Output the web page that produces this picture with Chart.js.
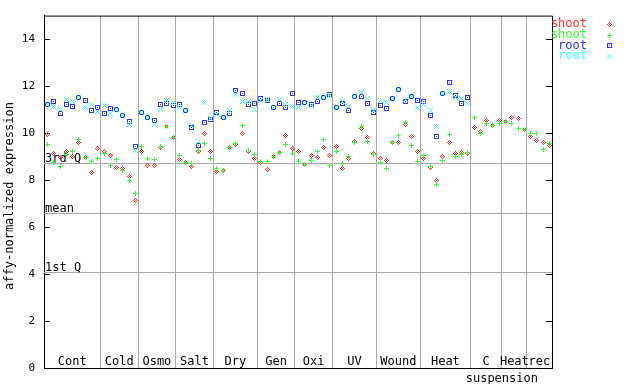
<!DOCTYPE html>
<html><head><meta charset="utf-8">
<script src="https://cdn.jsdelivr.net/npm/chart.js@4"></script>
<style>html,body{margin:0;padding:0;background:#fff}canvas{display:block}</style>
</head><body>
<canvas id="c" width="640" height="384"></canvas>
<script>
// ---- data ----
const groupNames = ["Cont","Cold","Osmo","Salt","Dry","Gen","Oxi","UV","Wound","Heat","C","Heat","rec"];
const groupSizes = [9,6,6,6,7,6,6,7,7,8,5,4,4];
const subLabel = "suspension";
const yTickValues = [0,2,4,6,8,10,12,14];
const quartileLabels = ["3rd Q","mean","1st Q"];
const quartileValues = [8.73, 6.62, 4.10];
const seriesNames = ["shoot","shoot","root","root"];

const shootRed = [
  9.95, 9.17, 9.00, 9.25, 9.04, 9.63, 9.00, 8.37, 9.38,
  9.25, 9.08, 8.58, 8.53, 8.17, 7.18,
  9.25, 8.66, 8.66, 9.42, 10.31, 9.84,
  8.91, 8.79, 8.62, 9.25, 10.01, 9.25,
  8.41, 8.45, 9.42, 9.55, 10.01, 9.25, 8.96,
  8.79, 8.49, 9.04, 9.21, 9.93, 9.38,
  9.25, 8.70, 9.08, 9.00, 9.42, 9.08,
  9.46, 8.53, 8.96, 9.67, 10.22, 9.84, 9.17,
  8.96, 8.87, 9.63, 9.63, 10.39, 9.89, 9.25,
  8.96, 8.58, 8.03, 9.04, 9.63, 9.17, 9.21, 9.17,
  10.27, 10.10, 10.56, 10.35, 10.56,
  10.52, 10.69, 10.65, 10.18,
  9.89, 9.72, 9.63, 9.50
];
const shootGreen = [
  9.52, 8.79, 8.62, 9.12, 9.25, 9.76, 9.00, 8.83, 8.96,
  9.17, 8.66, 8.91, 8.45, 8.03, 7.44,
  9.46, 8.96, 8.91, 9.46, 10.31, 9.84,
  9.08, 8.77, 8.75, 9.29, 9.59, 8.96,
  8.53, 8.45, 9.42, 9.59, 10.35, 9.29, 9.12,
  8.83, 8.83, 9.04, 9.21, 9.55, 9.17,
  8.83, 8.70, 8.87, 9.25, 9.76, 8.66,
  9.25, 8.75, 9.04, 9.63, 10.31, 9.67, 9.12,
  8.79, 8.53, 9.63, 9.93, 10.48, 9.50, 8.83,
  9.08, 8.62, 7.86, 8.87, 9.97, 9.04, 9.12, 9.21,
  10.69, 10.01, 10.43, 10.35, 10.43,
  10.52, 10.43, 10.22, 10.18,
  10.01, 10.01, 9.34, 9.59
];
const rootBlue = [
  11.24, 11.36, 10.86, 11.24, 11.15, 11.53, 11.41, 10.98, 11.11,
  10.86, 11.07, 11.03, 10.77, 10.52, 9.46,
  10.90, 10.71, 10.56, 11.24, 11.28, 11.20,
  11.24, 10.98, 10.27, 9.50, 10.48, 10.60,
  10.90, 10.69, 10.86, 11.83, 11.70, 11.24, 11.28,
  11.49, 11.41, 11.11, 11.28, 11.11, 11.70,
  11.32, 11.32, 11.24, 11.36, 11.53, 11.66,
  11.11, 11.28, 10.98, 11.58, 11.58, 11.28, 10.90,
  11.20, 11.07, 11.49, 11.87, 11.36, 11.58, 11.41,
  11.36, 10.77, 9.89, 11.70, 12.17, 11.62, 11.28, 11.53
];
const rootCyan = [
  11.24, 11.15, 11.03, 11.45, 11.36, 11.53, 11.11, 11.24, 10.94,
  11.20, 10.86, 11.03, 10.77, 10.39, 9.29,
  10.90, 10.71, 10.41, 11.05, 11.41, 11.32,
  11.11, 10.98, 10.35, 9.67, 11.32, 10.65,
  10.80, 10.69, 10.98, 11.66, 11.36, 11.36, 11.03,
  11.41, 11.45, 11.11, 11.45, 11.24, 11.15,
  11.11, 11.32, 11.20, 11.53, 11.53, 11.62,
  11.11, 11.36, 11.15, 11.58, 11.74, 11.49, 10.98,
  11.41, 11.32, 11.49, 11.87, 11.45, 11.58, 11.11,
  11.24, 10.98, 10.31, 11.70, 11.79, 11.53, 11.49, 11.28
];

// ---- derived ----
const nSamples = groupSizes.reduce((a,b)=>a+b,0);
const boundaries = [];
const groupStarts = [];
{ let s=0; groupSizes.forEach((g,i)=>{ groupStarts.push(s); s+=g; if(i<groupSizes.length-1) boundaries.push(s); }); }
const toPts = arr => arr.map((v,i)=>({x:i+0.5, y:v}));

const COL = {red:'#ff3030', green:'#30ff30', blue:'#3030ff', cyan:'#30ffff'};
const seriesColors = [COL.red, COL.green, COL.blue, COL.cyan];
const kinds = ['diamond','plus','square','x'];
function markerPixels(kind){
  const p=[];
  if(kind==='diamond'){ for(let y=0;y<5;y++)for(let x=0;x<5;x++){const d=Math.abs(x-2)+Math.abs(y-2); if(d<=2&&(x+y)%2===0)p.push([x,y]);} }
  else if(kind==='plus'){ for(let i=0;i<5;i++){p.push([2,i]); if(i!==2)p.push([i,2]);} }
  else if(kind==='square'){ for(let i=0;i<5;i++){p.push([i,0],[i,4]); if(i>0&&i<4)p.push([0,i],[4,i]);} p.push([2,2]); }
  else { for(let i=0;i<5;i++){p.push([i,i]); if(i!==2)p.push([4-i,i]);} }
  return p;
}
function drawMarker(ctx, kind, color, cx, cy){
  const x0=Math.round(cx)-2, y0=Math.round(cy)-2;
  ctx.fillStyle=color;
  markerPixels(kind).forEach(([x,y])=>ctx.fillRect(x0+x,y0+y,1,1));
}
const FONT = '"DejaVu Sans Mono", monospace';

const overlay = {
  id:'overlay',
  beforeDatasetsDraw(chart){
    const {ctx, chartArea:a, scales:{x,y}} = chart;
    ctx.save();
    ctx.strokeStyle='#a8a8a8'; ctx.lineWidth=1;
    quartileValues.forEach(v=>{ const py=Math.round(y.getPixelForValue(v))+0.5;
      ctx.beginPath(); ctx.moveTo(a.left,py); ctx.lineTo(a.right,py); ctx.stroke(); });
    ctx.fillStyle='#000'; ctx.font='12px '+FONT; ctx.textAlign='left'; ctx.textBaseline='alphabetic';
    quartileValues.forEach((v,i)=>{ ctx.fillText(quartileLabels[i], a.left+1, Math.round(y.getPixelForValue(v))-1); });
    ctx.strokeStyle='#000';
    ctx.beginPath(); ctx.moveTo(a.left, a.top+0.5); ctx.lineTo(a.right+0.5, a.top+0.5); ctx.lineTo(a.right+0.5, a.bottom); ctx.stroke();
    yTickValues.forEach(v=>{ const py=Math.round(y.getPixelForValue(v))+0.5;
      ctx.beginPath(); ctx.moveTo(a.left,py); ctx.lineTo(a.left+6,py); ctx.moveTo(a.right-6,py); ctx.lineTo(a.right,py); ctx.stroke(); });
    ctx.restore();
  },
  afterDatasetsDraw(chart){
    const ctx = chart.ctx;
    ctx.save();
    // draw point markers pixel-exact, in order red, green, blue, cyan (cyan on top)
    [0,1,2,3].forEach(di=>{
      const meta = chart.getDatasetMeta(di);
      meta.data.forEach(pt=>drawMarker(ctx, kinds[di], seriesColors[di], pt.x, pt.y));
    });
    ctx.restore();
  },
  afterDraw(chart){
    const {ctx, chartArea:a, scales:{x,y}} = chart;
    ctx.save();
    ctx.fillStyle='#000'; ctx.font='12px '+FONT; ctx.textAlign='center'; ctx.textBaseline='middle';
    groupNames.forEach((n,i)=>{ ctx.fillText(n, x.getPixelForValue(groupStarts[i]+groupSizes[i]/2), a.bottom-7); });
    ctx.fillText(subLabel, x.getPixelForValue(groupStarts[11]), a.bottom+10);
    ctx.save(); ctx.translate(10, (a.top+a.bottom)/2+4); ctx.rotate(-Math.PI/2);
    ctx.fillText('affy-normalized expression', 0, 0); ctx.restore();
    ctx.textAlign='right';
    seriesNames.forEach((n,i)=>{ const cy=24+i*10.7; ctx.fillStyle=seriesColors[i]; ctx.fillText(n, 587, cy);
      drawMarker(ctx, kinds[i], seriesColors[i], 609, cy); });
    ctx.restore();
  }
};

const mk = (label, arr, i) => ({label, data: toPts(arr), pointRadius:0, pointHoverRadius:0, showLine:false,
  borderColor: seriesColors[i], backgroundColor: seriesColors[i]});

new Chart(document.getElementById('c'), {
  type:'scatter',
  data:{ datasets:[ mk(seriesNames[0], shootRed, 0), mk(seriesNames[1], shootGreen, 1), mk(seriesNames[2], rootBlue, 2), mk(seriesNames[3], rootCyan, 3) ] },
  options:{
    responsive:false, animation:false, devicePixelRatio:1,
    layout:{padding:{top:13,right:88,bottom:0,left:0}},
    plugins:{legend:{display:false}, tooltip:{enabled:false}},
    scales:{
      x:{type:'linear', min:0, max:nSamples,
        afterBuildTicks: s=>{ s.ticks = boundaries.map(v=>({value:v})); },
        ticks:{display:false}, grid:{color:'#a8a8a8', drawTicks:false, lineWidth:1},
        border:{display:true, color:'#000'}, afterFit: s=>{ s.height=15; }},
      y:{type:'linear', min:0, max:15,
        afterBuildTicks: s=>{ s.ticks = yTickValues.map(v=>({value:v})); },
        ticks:{padding:9, color:'#000', font:{family:'DejaVu Sans Mono', size:11}},
        grid:{display:false, drawTicks:false}, border:{display:true, color:'#000'},
        afterFit: s=>{ s.width=44; }}
    }
  },
  plugins:[overlay]
});
</script>
</body></html>
